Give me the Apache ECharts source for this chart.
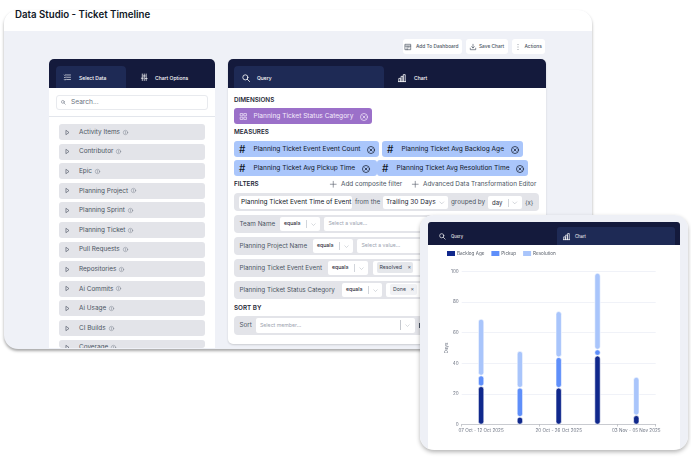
<!DOCTYPE html>
<html>
<head>
<meta charset="UTF-8">
<title>Data Studio - Ticket Timeline</title>
<script src="https://cdn.jsdelivr.net/npm/echarts@6/dist/echarts.min.js"></script>
<style>
html,body{margin:0;padding:0;background:#fff;}
body{width:691px;height:458px;overflow:hidden;position:relative;font-family:Inter,"Noto Sans",sans-serif;color:#4b5563;}
.b{position:absolute;box-sizing:border-box;white-space:nowrap;overflow:hidden;}
.t{position:absolute;white-space:nowrap;line-height:1;}
svg.i{position:absolute;overflow:visible;fill:none;stroke-linecap:round;stroke-linejoin:round;}
#box{position:absolute;left:420px;top:215px;width:268px;height:235px;}
</style>
</head>
<body>
<div id="ui"></div>
<div id="box"></div>

<script type="text/javascript">
// chart values
var weeks=['07 Oct - 12 Oct 2025','13 Oct - 19 Oct 2025','20 Oct - 26 Oct 2025','27 Oct - 02 Nov 2025','03 Nov - 05 Nov 2025'];
var backlogAge=[25,5,24,45,6];
var pickup=[7,19,20,4,null];
var resolution=[37,24,30,50,25];
var seriesNames=['Backlog Age','Pickup','Resolution'];
var seriesColors=['#10288c','#5f8ffa','#a9c5fb'];

var sidebarItems=['Activity Items','Contributor','Epic','Planning Project','Planning Sprint','Planning Ticket','Pull Requests','Repositories','Ai Commits','Ai Usage','CI Builds','Coverage'];

// icon shapes on a 10x10 box
var icons={
  search:'<circle cx="4.2" cy="4.2" r="3.2"/><path d="M6.6 6.6L9.5 9.5"/>',
  bars:'<path d="M.5 9.5h9M1 9.5V5.5h2.4v4M3.8 9.5V3h2.4v6.5M6.6 9.5V.8H9v8.7"/>',
  list:'<path d="M4 1.5h6M4 5h6M4 8.5h6M.5 1.5l1 1 1-1.5M.5 5l1 1 1-1.5M.5 8.5l1 1 1-1.5"/>',
  sliders:'<path d="M2 0v10M5 0v10M8 0v10M.5 6.5h3M3.5 3h3M6.5 7h3"/>',
  plus:'<path d="M5 .5v9M.5 5h9"/>',
  chev:'<path d="M1.5 3.5L5 7l3.5-3.5"/>',
  close:'<circle cx="5" cy="5" r="4.4"/><path d="M3.5 3.5l3 3M6.5 3.5l-3 3"/>',
  grid:'<rect x=".8" y=".8" width="3.2" height="3.2"/><rect x="6" y=".8" width="3.2" height="3.2"/><rect x=".8" y="6" width="3.2" height="3.2"/><rect x="6" y="6" width="3.2" height="3.2"/>',
  play:'<path d="M2.5 1l5.5 4-5.5 4z"/>',
  info:'<circle cx="5" cy="5" r="4.4"/><path d="M5 4.5v2.6M5 2.8v.1"/>',
  table:'<rect x=".5" y=".5" width="9" height="9"/><path d="M.5 3.5h9M3.5 3.5v6M6.5 3.5v3"/>',
  save:'<path d="M5 .5v6M2.8 4.5L5 6.7l2.2-2.2M.5 7v2.5h9V7"/>',
  dots:'<path d="M5 1v.1M5 5v.1M5 9v.1"/>'
};

var ui=document.getElementById('ui');
function box(parent,x,y,w,h,css){
  var d=document.createElement('div');
  d.className='b';
  d.style.cssText='left:'+x+'px;top:'+y+'px;width:'+w+'px;height:'+h+'px;'+(css||'');
  parent.appendChild(d);
  return d;
}
function txt(parent,x,y,s,size,color,weight){
  var d=document.createElement('div');
  d.className='t';
  d.textContent=s;
  d.style.cssText='left:'+x+'px;top:'+(y-size/2)+'px;font-size:'+size+'px;color:'+(color||'#4b5563')+';font-weight:'+(weight||400)+';';
  parent.appendChild(d);
  return d;
}
// x,y is the icon's centre
function ico(parent,name,x,y,size,color,sw){
  var s=document.createElementNS('http://www.w3.org/2000/svg','svg');
  s.setAttribute('class','i');
  s.setAttribute('viewBox','0 0 10 10');
  s.style.cssText='left:'+(x-size/2)+'px;top:'+(y-size/2)+'px;width:'+size+'px;height:'+size+'px;stroke:'+color+';stroke-width:'+(sw||1)+';';
  s.innerHTML=icons[name];
  parent.appendChild(s);
}

// back window
var win=box(ui,4,10,588,339,'background:#eff1f7;border-radius:14px;box-shadow:0 2px 3px rgba(0,0,0,.35);');
box(win,0,0,588,21,'background:#fff;');
txt(ui,15,14.5,'Data Studio - Ticket Timeline',9.7,'#111827',600);

// top buttons
[[403,59,'Add To Dashboard',416,'table',408],[466,42,'Save Chart',479,'save',473],[512,33,'Actions',524.5,'dots',518]].forEach(function(r){
  box(ui,r[0],39,r[1],15,'background:#fff;border-radius:3px;');
  txt(ui,r[3],46.7,r[2],4.8,'#4b5563',500);
  ico(ui,r[4],r[5],46.5,6,'#374151',1);
});

// left panel
box(ui,49,59,166,289,'background:#fff;border-radius:5px 5px 0 0;');
box(ui,49,59,166,29,'background:#141a3c;border-radius:5px 5px 0 0;');
box(ui,56,66,70,22,'background:#1e2a55;border-radius:4px 4px 0 0;');
txt(ui,79,78,'Select Data',5,'#fff',500);
txt(ui,155,78,'Chart Options',5,'#fff',500);
ico(ui,'list',67,77.5,6.5,'#fff',1);
ico(ui,'sliders',144,77.5,6.5,'#fff',1.1);
box(ui,56,95,152,15,'background:#fff;border:1px solid #e8eaee;border-radius:3px;');
ico(ui,'search',63.5,102.5,4.5,'#6b7280',1.2);
txt(ui,71,102.5,'Search...',6.6,'#6b7280');
box(ui,49,116,166,1,'background:#e3e6ec;');
sidebarItems.forEach(function(name,i){
  var y=124+i*19.6;
  var h=Math.min(16,348-y);
  var item=box(ui,59,y,146,h,'background:#e3e4e9;border-radius:3px;');
  ico(item,'play',8.5,8,5,'#374151',1.1);
  var t=txt(item,20,8,name,6.4,'#4b5563');
  ico(item,'info',20+t.offsetWidth+5,8,5,'#6b7280',.8);
});

// right panel
box(ui,228,59,318,285,'background:#fff;border-radius:5px;box-shadow:0 1px 2px rgba(0,0,0,.15);');
box(ui,228,59,318,29,'background:#141a3c;border-radius:5px 5px 0 0;');
box(ui,234,66,150,22,'background:#1e2a55;border-radius:4px 4px 0 0;');
ico(ui,'search',245.5,77.5,8,'#fff',1);
txt(ui,257,78,'Query',5,'#fff',500);
ico(ui,'bars',402,77.5,8,'#fff',1);
txt(ui,414,78,'Chart',5,'#fff',500);

txt(ui,234,100,'DIMENSIONS',6.3,'#1f2937',600);
box(ui,234,108,138,16,'background:#9b70c9;border-radius:3px;');
ico(ui,'grid',243,116.5,7,'#f3eafb',1);
txt(ui,253.5,116.5,'Planning Ticket Status Category',6.6,'#f3eafb');
ico(ui,'close',364,116.5,8,'#f3eafb',.9);

txt(ui,234,132,'MEASURES',6.3,'#1f2937',600);
[[234,141,145,'Planning Ticket Event Event Count',371],[382,141,141,'Planning Ticket Avg Backlog Age',515],
 [234,160,143,'Planning Ticket Avg Pickup Time',366],[377,160,151,'Planning Ticket Avg Resolution Time',520]].forEach(function(m){
  box(ui,m[0],m[1],m[2],16,'background:#aac6fb;border-radius:3px;');
  txt(ui,m[0]+5,m[1]+8.2,'#',10,'#111827',500);
  txt(ui,m[0]+19.5,m[1]+8.5,m[3],6.6,'#111827');
  ico(ui,'close',m[4],m[1]+8.5,8,'#111827',.9);
});

txt(ui,234,184.5,'FILTERS',6.3,'#1f2937',600);
ico(ui,'plus',333,184.5,6.5,'#4b5563',.9);
txt(ui,341,184.5,'Add composite filter',6.4,'#4b5563');
ico(ui,'plus',415,184.5,6.5,'#4b5563',.9);
txt(ui,423,184.5,'Advanced Data Transformation Editor',6.4,'#4b5563');

box(ui,234,193,305,18,'background:#e3e4e9;border-radius:4px;');
box(ui,239,196,113,13,'background:#fff;border-radius:2px;');
txt(ui,241,202.5,'Planning Ticket Event Time of Event',6.5,'#111827');
txt(ui,355,202.5,'from the',6.3,'#4b5563');
box(ui,383,196,65,13,'background:#fff;border-radius:2px;');
txt(ui,386,202.5,'Trailing 30 Days',6.5,'#1f2937');
ico(ui,'chev',442,202.5,5.5,'#9ca3af',.8);
txt(ui,451,202.5,'grouped by',6.3,'#4b5563');
box(ui,488,196,34,13,'background:#fff;border-radius:2px;');
txt(ui,492,202.5,'day',6,'#1f2937');
box(ui,507.5,198.5,.6,8,'background:#d1d5db;');
ico(ui,'chev',515,202.5,5.5,'#9ca3af',.8);
txt(ui,525,202.5,'{x}',6,'#4b5563');

// filter rows: y, label, equals x, value box x, placeholder
[[215,'Team Name',280,324,'Select a value...'],[237,'Planning Project Name',313,357,'Select a value...'],
 [259,'Planning Ticket Event Event',328,373,''],[281,'Planning Ticket Status Category',342,386,'']].forEach(function(r){
  box(ui,234,r[0],305,18,'background:#e3e4e9;border-radius:4px;');
  txt(ui,239.5,r[0]+9,r[1],6.3,'#4b5563');
  box(ui,r[2],r[0]+2,40,14,'background:#fff;border-radius:2px;');
  txt(ui,r[2]+4,r[0]+9,'equals',5.2,'#1f2937',500);
  box(ui,r[2]+25.5,r[0]+5,.6,8,'background:#d1d5db;');
  ico(ui,'chev',r[2]+33,r[0]+9,5,'#9ca3af',.8);
  box(ui,r[3],r[0]+2,150,14,'background:#fff;border-radius:2px;');
  if(r[4]) txt(ui,r[3]+4.5,r[0]+9,r[4],5.2,'#9ca3af');
});
box(ui,377,262,36,11,'background:#e5e7eb;border-radius:2px;');
txt(ui,379.5,267.7,'Resolved',5.2,'#374151');
txt(ui,407.5,267.7,'×',5.5,'#374151');
box(ui,390,284,27,11,'background:#f0f1f4;border-radius:2px;');
txt(ui,393,289.7,'Done',5.2,'#374151');
txt(ui,410.5,289.7,'×',5.5,'#374151');

txt(ui,234,308,'SORT BY',6.3,'#1f2937',600);
box(ui,234,316,305,19,'background:#e3e4e9;border-radius:4px;');
txt(ui,239.5,325.5,'Sort',6.3,'#4b5563');
box(ui,256,318,159,15,'background:#fff;border-radius:2px;');
txt(ui,260,325.5,'Select member...',5.2,'#9ca3af');
box(ui,400,320,.6,10,'background:#c5c8ce;');
ico(ui,'chev',407.5,325.5,5,'#9ca3af',.8);
box(ui,418.5,323,1.5,5,'background:#4b5563;');

// front card
var card=box(ui,420,215,268,235,'background:#fff;border-radius:14px;box-shadow:0 2px 4px rgba(0,0,0,.3);overflow:visible;');
var cardClip=box(card,0,0,268,235,'border-radius:14px;');
box(cardClip,0,0,8,235,'background:#eef0f6;');
box(cardClip,260,0,8,235,'background:#eef0f6;');
box(cardClip,0,0,268,7,'background:#eef0f6;');
box(cardClip,8,7,252,23,'background:#141a3c;border-radius:3px 3px 0 0;');
box(cardClip,137,12,118,18,'background:#1e2a55;border-radius:3px 3px 0 0;');
ico(cardClip,'search',22,21,6.5,'#fff',1);
txt(cardClip,31,22,'Query',4.2,'#fff');
ico(cardClip,'bars',146.5,21,7,'#fff',1);
txt(cardClip,155,22,'Chart',4.2,'#fff');

var mychart=echarts.init(document.getElementById('box'));
mychart.setOption({
  animation:false,
  backgroundColor:'transparent',
  textStyle:{fontFamily:'Inter'},
  color:seriesColors,
  legend:{
    data:seriesNames,
    left:27,
    top:36,
    icon:'rect',
    itemWidth:8,
    itemHeight:5,
    itemGap:7,
    padding:0,
    itemStyle:{borderWidth:0},
    textStyle:{fontSize:4.6,color:'#555b66',padding:[0,0,0,-3]}
  },
  grid:{left:41.7,right:32.3,top:56.5,bottom:25.5},
  xAxis:{
    type:'category',
    data:weeks,
    axisLine:{lineStyle:{color:'#c9cbd0',width:1}},
    axisTick:{show:true,interval:1,length:2,lineStyle:{color:'#a0a3a8',width:.6}},
    axisLabel:{interval:1,fontSize:4.6,color:'#6b7280',margin:4,hideOverlap:false}
  },
  yAxis:{
    type:'value',
    min:0,
    max:100,
    interval:20,
    name:'Days',
    nameLocation:'middle',
    nameGap:13,
    nameMoveOverlap:false,
    nameTextStyle:{fontSize:4.6,color:'#6b7280'},
    axisLabel:{fontSize:4.6,color:'#6b7280',margin:3},
    splitLine:{lineStyle:{color:'#f0f2f8',width:1}}
  },
  series:[backlogAge,pickup,resolution].map(function(vals,i){
    return {
      name:seriesNames[i],
      type:'bar',
      stack:'days',
      barWidth:6,
      data:vals,
      itemStyle:{color:seriesColors[i],borderColor:'#fff',borderWidth:.6,borderRadius:3}
    };
  })
});
</script>
</body>
</html>
